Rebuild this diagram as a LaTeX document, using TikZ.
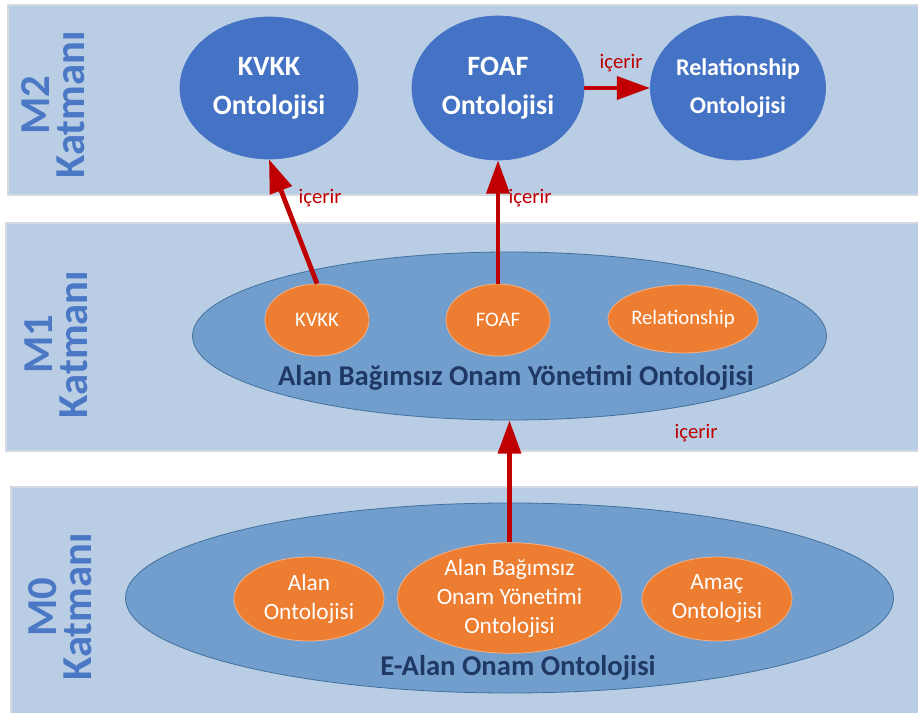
\documentclass[tikz,border=0pt]{standalone}
\usepackage{fontspec}
\setmainfont{Carlito}
\usetikzlibrary{shapes.geometric,arrows.meta}
\definecolor{band}{HTML}{B9CDE5}
\definecolor{bandline}{HTML}{D4DAE2}
\definecolor{layertxt}{HTML}{4A78C4}
\definecolor{darkblue}{HTML}{4472C4}
\definecolor{midblue}{HTML}{729ECE}
\definecolor{midline}{HTML}{41719C}
\definecolor{orng}{HTML}{ED7D31}
\definecolor{orngline}{HTML}{F4B183}
\definecolor{navy}{HTML}{1F3864}
\definecolor{arrred}{HTML}{C00000}
\begin{document}
\begin{tikzpicture}[x=0.75pt,y=-0.75pt,
  bandbox/.style={fill=band,draw=bandline,line width=0.8pt},
  layer/.style={rotate=90,text=layertxt,font=\fontsize{32}{26}\selectfont\bfseries,align=center,inner sep=0pt},
  topell/.style={ellipse,fill=darkblue,draw=darkblue,line width=0.5pt,text=white,align=center,inner sep=0pt},
  bigell/.style={ellipse,fill=midblue,draw=midline,line width=0.6pt,inner sep=0pt},
  orell/.style={ellipse,fill=orng,draw=orngline,line width=0.6pt,text=white,align=center,inner sep=0pt},
  navytxt/.style={text=navy,font=\fontsize{21.5}{26}\selectfont\bfseries,inner sep=0pt},
  reltxt/.style={text=arrred,font=\fontsize{15.5}{18}\selectfont,inner sep=0pt},
  arr/.style={draw=arrred,line width=3.6pt,-{Triangle[length=25pt,width=17pt]}}
]
\useasboundingbox (0,0) rectangle (918,713);
% bands
\path[bandbox] (8,5) rectangle (925,195);
\path[bandbox] (6,223) rectangle (925,451);
\path[bandbox] (11,487) rectangle (925,720);
% layer labels
\node[layer] (m2) at (53,105) {M2\\Katmanı};
\node[layer] (m1) at (56,344.5) {M1\\Katmanı};
\node[layer] (m0) at (60,607) {M0\\Katmanı};
% M2
\node[topell,minimum width=133.5pt,minimum height=106.5pt,font=\fontsize{21}{29}\selectfont\bfseries] (kvkk2) at (269,88) {KVKK\\Ontolojisi};
\node[topell,minimum width=129pt,minimum height=108pt,font=\fontsize{21}{29}\selectfont\bfseries] (foaf2) at (498,88) {FOAF\\Ontolojisi};
\node[topell,minimum width=129.75pt,minimum height=108pt,font=\fontsize{18}{29}\selectfont\bfseries] (rel2) at (738,88) {Relationship\\Ontolojisi};
% M1
\node[bigell,minimum width=475.5pt,minimum height=126pt] (big1) at (509.5,336) {};
\node[orell,minimum width=78pt,minimum height=54pt,font=\fontsize{15.5}{18}\selectfont] (kvkk1) at (317,320) {KVKK};
\node[orell,minimum width=78pt,minimum height=54pt,font=\fontsize{15.5}{18}\selectfont] (foaf1) at (498,320) {FOAF};
\node[orell,minimum width=112.5pt,minimum height=51pt,font=\fontsize{15.5}{18}\selectfont] (rel1) at (683,319) {Relationship};
\node[navytxt] (t1) at (516,378) {Alan Bağımsız Onam Yönetimi Ontolojisi};
% M0
\node[bigell,minimum width=576pt,minimum height=142.5pt] (big0) at (509.5,598) {};
\node[orell,minimum width=112.5pt,minimum height=63pt,font=\fontsize{17.5}{21.75}\selectfont] (alan0) at (309,599) {Alan\\Ontolojisi};
\node[orell,minimum width=168pt,minimum height=82.5pt,font=\fontsize{17.5}{21.75}\selectfont] (abo0) at (509.5,598) {Alan Bağımsız\\Onam Yönetimi\\Ontolojisi};
\node[orell,minimum width=112.5pt,minimum height=63pt,font=\fontsize{17.5}{21.75}\selectfont] (amac0) at (717,599) {Amaç\\Ontolojisi};
\node[navytxt] (t0) at (518,668) {E-Alan Onam Ontolojisi};
% connectors
\draw[arr] (kvkk1.north) -- (kvkk2.south);
\draw[arr] (foaf1.north) -- (foaf2.south);
\draw[arr] (foaf2.east) -- (rel2.west);
\draw[arr] (abo0.north) -- (big1.south);
% labels
\node[reltxt] (l1) at (320,198) {içerir};
\node[reltxt] (l2) at (530,198) {içerir};
\node[reltxt] (l3) at (621,63) {içerir};
\node[reltxt] (l4) at (696,433) {içerir};
\end{tikzpicture}
\end{document}
